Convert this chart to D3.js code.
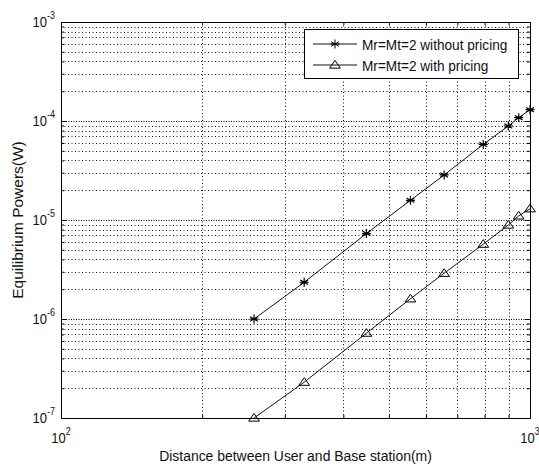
<!DOCTYPE html>
<html>
<head>
<meta charset="utf-8">
<script src="https://cdn.jsdelivr.net/npm/d3@7"></script>
<style>
  body { margin: 0; background: #fff; }
  text { font-family: "Liberation Sans", Arial, sans-serif; fill: #111; }
</style>
</head>
<body>
<svg id="chart" width="539" height="468"></svg>
<script>
// Data
var distance = [258, 330, 448, 556, 656, 795, 899, 946, 1000];
var powerNoPricing = [1.0e-6, 2.35e-6, 7.3e-6, 1.58e-5, 2.85e-5, 5.8e-5, 8.9e-5, 1.08e-4, 1.3e-4];
var powerWithPricing = [1.0e-7, 2.3e-7, 7.2e-7, 1.6e-6, 2.9e-6, 5.7e-6, 8.9e-6, 1.1e-5, 1.3e-5];
var seriesNames = ["Mr=Mt=2 without pricing", "Mr=Mt=2 with pricing"];
var xMajor = [100, 1000];
var xExponents = ["2", "3"];
var yMajor = [1e-7, 1e-6, 1e-5, 1e-4, 1e-3];
var yExponents = ["-7", "-6", "-5", "-4", "-3"];
var xLabel = "Distance between User and Base station(m)";
var yLabel = "Equilibrium Powers(W)";

var svg = d3.select("#chart");
var pLeft = 61, pRight = 530, pTop = 22, pBottom = 418;

var x = d3.scaleLog().domain([100, 1000]).range([pLeft, pRight]);
var y = d3.scaleLog().domain([1e-7, 1e-3]).range([pBottom, pTop]);

// minor tick values (2..9 in each decade)
var xMinor = d3.range(2, 10).map(function(k) { return k * 100; });
var yMinor = [];
[-7, -6, -5, -4].forEach(function(e) {
  for (var k = 2; k <= 9; k++) yMinor.push(k * Math.pow(10, e));
});

// Grid
var grid = svg.append("g");
grid.selectAll(".gx").data(xMinor).enter().append("line")
    .attr("x1", function(d) { return Math.round(x(d)) + 0.5; })
    .attr("x2", function(d) { return Math.round(x(d)) + 0.5; })
    .attr("y1", pTop).attr("y2", pBottom)
    .attr("stroke", "#111").attr("stroke-dasharray", "1,2.5");
grid.selectAll(".gy").data(yMinor).enter().append("line")
    .attr("y1", function(d) { return Math.round(y(d)) + 0.5; })
    .attr("y2", function(d) { return Math.round(y(d)) + 0.5; })
    .attr("x1", pLeft).attr("x2", pRight)
    .attr("stroke", "#111").attr("stroke-dasharray", "1,2.5");
grid.selectAll(".gyM").data(yMajor.slice(1, -1)).enter().append("line")
    .attr("y1", function(d) { return Math.round(y(d)) + 0.5; })
    .attr("y2", function(d) { return Math.round(y(d)) + 0.5; })
    .attr("x1", pLeft).attr("x2", pRight)
    .attr("stroke", "#000").attr("stroke-dasharray", "1,1.5");

// Axes with inward ticks on all sides
function addAxis(axis, tx, ty) {
  var g = svg.append("g").attr("transform", "translate(" + tx + "," + ty + ")").call(axis);
  g.select(".domain").remove();
  g.selectAll("text").remove();
  g.selectAll("line").attr("stroke", "#000");
}
addAxis(d3.axisBottom(x).tickValues(xMajor).tickSize(-5), 0, pBottom);
addAxis(d3.axisBottom(x).tickValues(xMinor).tickSize(-3), 0, pBottom);
addAxis(d3.axisTop(x).tickValues(xMajor).tickSize(-5), 0, pTop);
addAxis(d3.axisTop(x).tickValues(xMinor).tickSize(-3), 0, pTop);
addAxis(d3.axisLeft(y).tickValues(yMajor).tickSize(-5), pLeft, 0);
addAxis(d3.axisLeft(y).tickValues(yMinor).tickSize(-3), pLeft, 0);
addAxis(d3.axisRight(y).tickValues(yMajor).tickSize(-5), pRight, 0);
addAxis(d3.axisRight(y).tickValues(yMinor).tickSize(-3), pRight, 0);

svg.append("rect")
    .attr("x", pLeft + 0.5).attr("y", pTop + 0.5)
    .attr("width", pRight - pLeft).attr("height", pBottom - pTop)
    .attr("fill", "none").attr("stroke", "#000");

// Tick labels 10^n
yMajor.forEach(function(v, i) {
  var t = svg.append("text")
      .attr("transform", "translate(55," + y(v) + ") scale(0.9,1)")
      .attr("text-anchor", "end").attr("y", 5).style("font-size", "14.5px");
  t.append("tspan").text("10");
  t.append("tspan").attr("dy", -8).style("font-size", "10px").text(yExponents[i]);
});
xMajor.forEach(function(v, i) {
  var t = svg.append("text")
      .attr("transform", "translate(" + x(v) + ",443) scale(0.9,1)")
      .attr("text-anchor", "middle").style("font-size", "14.5px");
  t.append("tspan").text("10");
  t.append("tspan").attr("dy", -8).style("font-size", "10px").text(xExponents[i]);
});

// Axis titles
svg.append("text")
    .attr("transform", "translate(" + (pLeft + pRight) / 2 + ",461) scale(0.9,1)")
    .attr("text-anchor", "middle").style("font-size", "15.5px").text(xLabel);
svg.append("text")
    .attr("transform", "translate(23," + (pTop + pBottom) / 2 + ") scale(0.9,1) rotate(-90)")
    .attr("text-anchor", "middle").style("font-size", "15.5px").text(yLabel);

// Series
var line = d3.line().x(function(d) { return x(d[0]); }).y(function(d) { return y(d[1]); });
var dataNo = d3.zip(distance, powerNoPricing);
var dataWith = d3.zip(distance, powerWithPricing);

function starPath(s) {
  var a = s * 0.87, b = s * 0.5;
  return "M0," + (-s) + "L0," + s + "M" + (-a) + "," + (-b) + "L" + a + "," + b +
         "M" + (-a) + "," + b + "L" + a + "," + (-b) + "M" + (-s) + ",0L" + s + ",0";
}
function triPath(s) {
  return "M0," + (-s) + "L" + (s * 1.2) + "," + (s * 0.7) + "L" + (-s * 1.2) + "," + (s * 0.7) + "Z";
}

svg.append("path").datum(dataNo).attr("d", line)
    .attr("fill", "none").attr("stroke", "#111").attr("stroke-width", 1);
svg.append("path").datum(dataWith).attr("d", line)
    .attr("fill", "none").attr("stroke", "#111").attr("stroke-width", 1);

svg.selectAll(".star").data(dataNo).enter().append("path")
    .attr("transform", function(d) { return "translate(" + x(d[0]) + "," + y(d[1]) + ")"; })
    .attr("d", starPath(4.5)).attr("fill", "none").attr("stroke", "#000").attr("stroke-width", 1.2);
svg.selectAll(".tri").data(dataWith).enter().append("path")
    .attr("transform", function(d) { return "translate(" + x(d[0]) + "," + y(d[1]) + ")"; })
    .attr("d", triPath(4.5)).attr("fill", "none").attr("stroke", "#000").attr("stroke-width", 1);

// Legend
var lg = svg.append("g");
lg.append("rect").attr("x", 304.5).attr("y", 29.5).attr("width", 214).attr("height", 49)
    .attr("fill", "#fff").attr("stroke", "#000");
var rows = [44, 65];
seriesNames.forEach(function(name, i) {
  lg.append("line").attr("x1", 313).attr("x2", 357).attr("y1", rows[i]).attr("y2", rows[i])
      .attr("stroke", "#111");
  lg.append("path").attr("transform", "translate(335," + rows[i] + ")")
      .attr("d", i === 0 ? starPath(4.5) : triPath(4.5))
      .attr("fill", "none").attr("stroke", "#000");
  lg.append("text").attr("transform", "translate(362," + (rows[i] + 5.5) + ") scale(0.88,1)")
      .style("font-size", "15.5px").text(name);
});
</script>
</body>
</html>
